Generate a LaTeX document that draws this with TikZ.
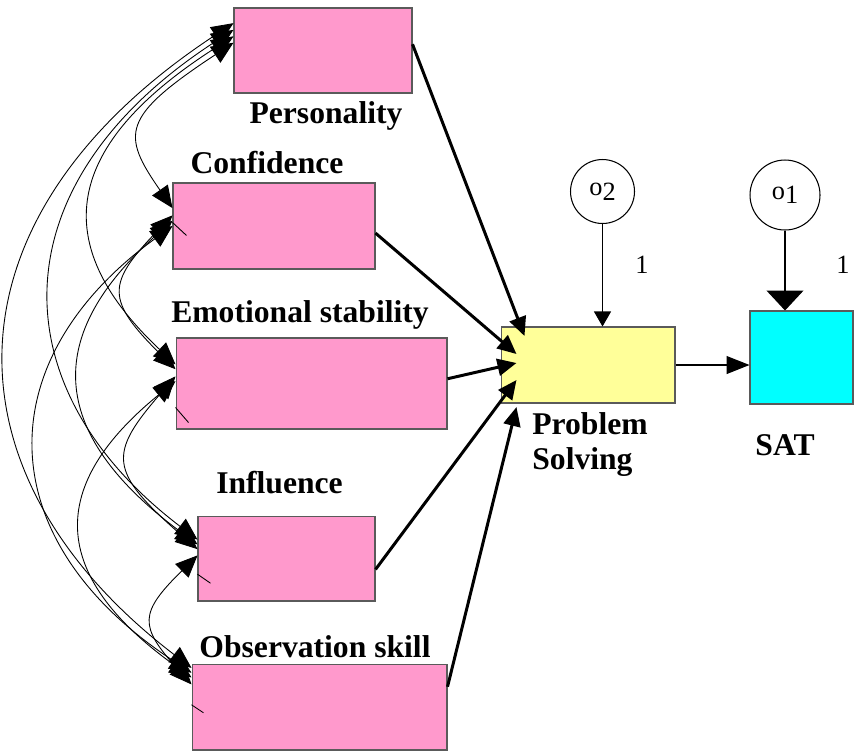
\documentclass[tikz,border=0pt]{standalone}
\usepackage{fontspec}
\setmainfont{Liberation Serif}
\usepackage{tikz}
\usepackage{xcolor}
\usetikzlibrary{arrows.meta,positioning,calc}
\definecolor{boxPink}{RGB}{255,153,204}
\definecolor{boxYellow}{RGB}{255,255,153}
\definecolor{boxCyan}{RGB}{0,255,255}
\definecolor{boxEdge}{RGB}{90,90,90}

\tikzset{
  varbox/.style={rectangle, draw=boxEdge, line width=0.6pt, inner sep=0pt},
  lbl/.style={font=\fontsize{18}{20}\selectfont\bfseries, inner sep=0pt, anchor=base},
  errc/.style={circle, draw, line width=0.6pt, inner sep=0pt, font=\fontsize{15}{17}\selectfont},
  regr/.style={line width=1.7pt, -{Triangle[length=0.38cm,width=0.34cm]}},
  cov/.style={line width=0.5pt, {Triangle[length=0.44cm,width=0.38cm]}-{Triangle[length=0.44cm,width=0.38cm]}},
}

\begin{document}
\begin{tikzpicture}[x=0.02cm, y=-0.02cm]
                    \useasboundingbox (0,0) rectangle (854,752);
                    \node[varbox, fill=boxPink, minimum width=3.56cm, minimum height=1.7cm] (pers) at (323,50.5) {};
                    \node[varbox, fill=boxPink, minimum width=4.04cm, minimum height=1.72cm] (conf) at (274,226) {};
                    \node[varbox, fill=boxPink, minimum width=5.42cm, minimum height=1.82cm] (emot) at (311.5,383.5) {};
                    \node[varbox, fill=boxPink, minimum width=3.54cm, minimum height=1.7cm] (infl) at (286.5,558.5) {};
                    \node[varbox, fill=boxPink, minimum width=5.1cm, minimum height=1.72cm] (obs) at (319.5,707) {};
                    \node[varbox, fill=boxYellow, minimum width=3.48cm, minimum height=1.52cm] (ps) at (588,365) {};
                    \node[varbox, fill=boxCyan, minimum width=2.06cm, minimum height=1.86cm] (sat) at (801.5,357.5) {};
                    \node[errc, minimum size=1.28cm] (o2) at (602.5,191.5) {o\raisebox{-2.5pt}{2}};
                    \node[errc, minimum size=1.4cm] (o1) at (785,195) {o\raisebox{-2.5pt}{1}};

                    \node[lbl] (persLbl) at (326,123) {Personality};
                    \node[lbl] (confLbl) at (267,173) {Confidence};
                    \node[lbl] (emotLbl) at (300,322) {Emotional stability};
                    \node[lbl] (inflLbl) at (279.5,493) {Influence};
                    \node[lbl] (obsLbl) at (315,657) {Observation skill};
                    \node[lbl, anchor=north west, align=left] (psLbl) at (532,412) {Problem\\Solving};
                    \node[lbl] (satLbl) at (785,455) {SAT};
                    \node[font=\fontsize{15}{17}\selectfont] (w2) at (642,265) {1};
                    \node[font=\fontsize{15}{17}\selectfont] (w1) at (843,265) {1};

                    \draw[regr] (pers.4) -- ($(ps.west)+(24,-29)$);
                    \draw[regr] (conf.-4) -- ($(ps.west)+(16,-11)$);
                    \draw[regr] (emot.2) -- ($(ps.west)+(16,-2)$);
                    \draw[regr] (infl.-7) -- ($(ps.west)+(16,15)$);
                    \draw[regr] (obs.9) -- ($(ps.west)+(16,42)$);
                    \draw[line width=0.6pt, -{Triangle[length=0.3cm,width=0.34cm]}] (o2.south) -- (o2.south |- ps.north);
                    \draw[line width=0.6pt, -{Triangle[length=0.4cm,width=0.74cm]}] (o1.south) -- (o1.south |- sat.north);
                    \draw[line width=0.6pt, -{Triangle[length=0.46cm,width=0.36cm]}] (ps.east) -- (ps.east -| sat.west);

                    \draw[cov] (pers.175) .. controls (121,117) and (121,134) .. (conf.170);
                    \draw[cov] (pers.171) .. controls (54,151) and (54,250) .. (emot.172);
                    \draw[cov] (pers.167) .. controls (-3,183) and (-3,387) .. (infl.168);
                    \draw[cov] (pers.163) .. controls (-62,217) and (-62,474) .. (obs.163);
                    \draw[cov] (conf.174) .. controls (106,284) and (106,300) .. (emot.174);
                    \draw[cov] (conf.177) .. controls (45,334) and (45,431) .. (infl.171);
                    \draw[cov] (conf.180) .. controls (-12,360) and (-12,539) .. (obs.165);
                    \draw[cov] (emot.177) .. controls (108,454) and (108,471) .. (infl.174);
                    \draw[cov] (emot.179) .. controls (48,485) and (48,574) .. (obs.167);
                    \draw[cov] (infl.178) .. controls (139,613) and (139,626) .. (obs.170);
                    \draw[line width=0.5pt] (conf.178) -- ++(14,13);
                    \draw[line width=0.5pt] (emot.190) -- ++(13,15);
                    \draw[line width=0.5pt] (infl.190) -- ++(13,9);
                    \draw[line width=0.5pt] (obs.179) -- ++(12,8);
                \end{tikzpicture}
\end{document}
